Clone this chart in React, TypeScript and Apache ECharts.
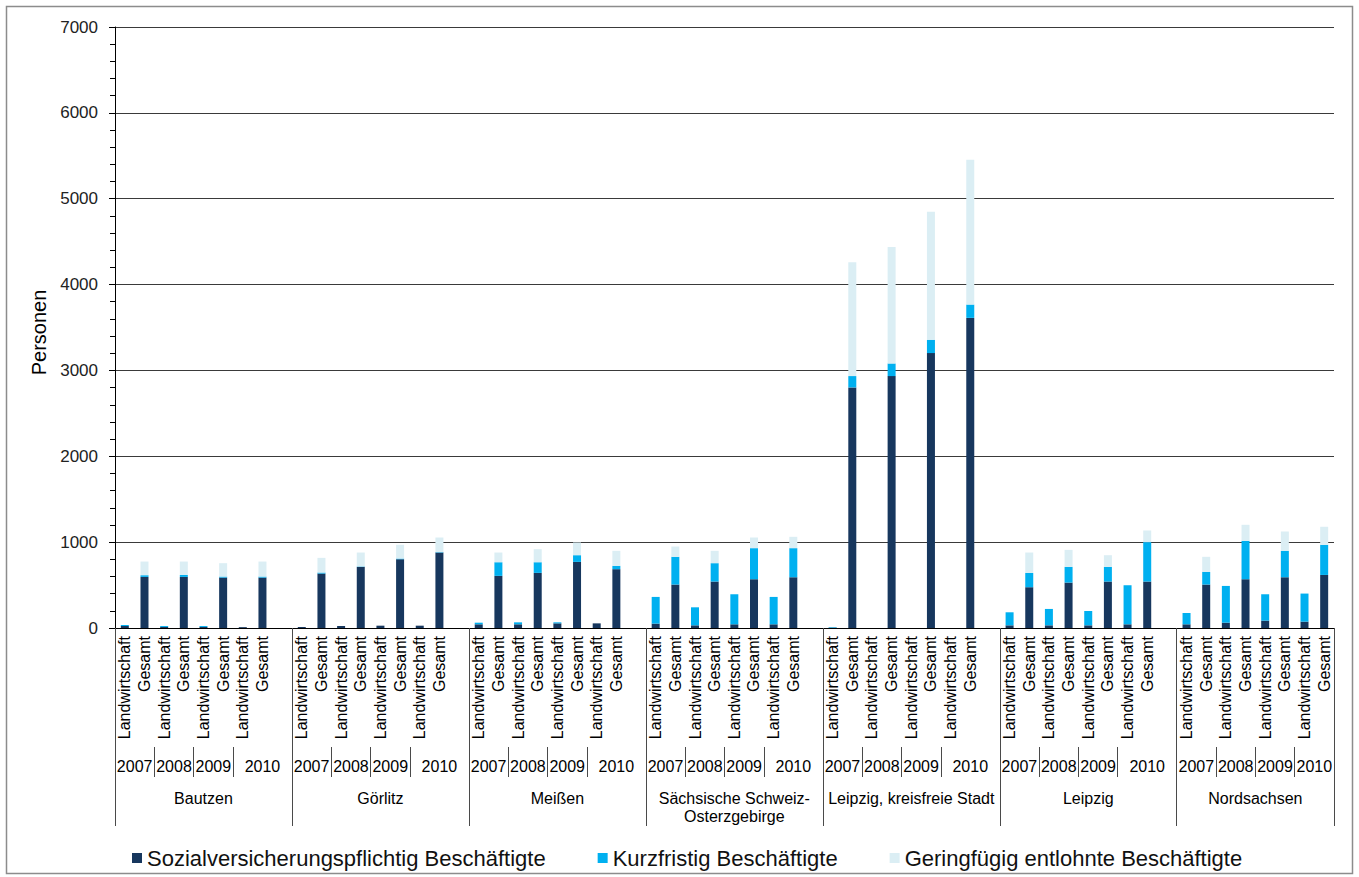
import React, { useEffect, useRef } from "react";
import * as echarts from "echarts";

const regions = [
  "Bautzen",
  "Görlitz",
  "Meißen",
  "Sächsische Schweiz-\nOsterzgebirge",
  "Leipzig, kreisfreie Stadt",
  "Leipzig",
  "Nordsachsen",
];
const years = ["2007", "2008", "2009", "2010"];
const sectors = ["Landwirtschaft", "Gesamt"];
const seriesNames = [
  "Sozialversicherungspflichtig Beschäftigte",
  "Kurzfristig Beschäftigte",
  "Geringfügig entlohnte Beschäftigte",
];
const seriesColors = ["#17375E", "#00B0F0", "#DBEEF4"];
const yMin = 0;
const yMax = 7000;
const yStep = 1000;

// per region: L2007, G2007, L2008, G2008, L2009, G2009, L2010, G2010
const sozialversicherungspflichtig = [
  [23, 595, 12, 595, 12, 587, 10, 587],
  [12, 634, 23, 712, 27, 801, 27, 879],
  [43, 607, 43, 642, 54, 770, 54, 685],
  [51, 506, 31, 541, 43, 568, 43, 591],
  [4, 2802, 0, 2934, 0, 3202, 0, 3612],
  [31, 475, 31, 529, 31, 541, 43, 541],
  [43, 506, 62, 568, 86, 591, 74, 618],
];
const kurzfristig = [
  [12, 20, 11, 23, 11, 12, 0, 12],
  [0, 12, 0, 5, 0, 8, 0, 5],
  [19, 159, 23, 124, 12, 78, 0, 39],
  [311, 323, 210, 214, 350, 362, 319, 339],
  [6, 132, 0, 147, 0, 155, 0, 155],
  [152, 167, 191, 183, 167, 171, 455, 459],
  [132, 148, 428, 447, 307, 308, 327, 351],
];
const geringfuegig = [
  [0, 159, 0, 156, 0, 156, 0, 175],
  [0, 171, 0, 162, 0, 160, 0, 170],
  [0, 113, 0, 152, 0, 148, 0, 175],
  [0, 120, 0, 144, 0, 124, 0, 132],
  [0, 1326, 0, 1357, 0, 1492, 0, 1687],
  [0, 237, 0, 198, 0, 136, 0, 136],
  [0, 175, 0, 187, 0, 225, 0, 210],
];

const FONT = "'Liberation Sans', Arial, sans-serif";

// build slot categories (a blank slot separates regions)
const categories: string[] = [];
const regionStart: number[] = [];
regions.forEach((_, ri) => {
  regionStart.push(categories.length);
  years.forEach(() => sectors.forEach((s) => categories.push(s)));
  if (ri < regions.length - 1) categories.push("");
});
const N = categories.length;

const flat = (rows: number[][]) => {
  const out: (number | null)[] = [];
  rows.forEach((row, ri) => {
    out.push(...row);
    if (ri < rows.length - 1) out.push(null);
  });
  return out;
};

// half-slot helper axes for year and region labels
const H = 2 * N + 1;
const yearLabels: string[] = Array(H).fill("");
const regionLabels: string[] = Array(H).fill("");
const yearTickIdx = new Set<number>([2 * N]);
const regionTickIdx = new Set<number>([2 * N]);
regions.forEach((r, ri) => {
  const s = regionStart[ri];
  const regionSpan = ri < regions.length - 1 ? years.length * sectors.length + 1 : years.length * sectors.length;
  regionLabels[2 * s + regionSpan] = r;
  regionTickIdx.add(2 * s);
  years.forEach((y, yi) => {
    const start = s + sectors.length * yi;
    const span = yi === years.length - 1 ? s + regionSpan - start : sectors.length;
    yearLabels[2 * start + span] = y;
    yearTickIdx.add(2 * start);
  });
});

const seriesData = [sozialversicherungspflichtig, kurzfristig, geringfuegig];

export default function App() {
  const ref = useRef<HTMLDivElement>(null);
  useEffect(() => {
    if (!ref.current) return;
    const chart = echarts.init(ref.current, null, { renderer: "svg" });
    const tickLine = { color: "#4a4a4a", width: 1 };
    chart.setOption({
      animation: false,
      backgroundColor: "#fff",
      textStyle: { fontFamily: FONT },
      graphic: [
        {
          type: "rect",
          shape: { x: 6.5, y: 6.5, width: 1346, height: 867 },
          style: { fill: "none", stroke: "#8c8c8c", lineWidth: 1.5 },
          silent: true,
        },
      ],
      legend: {
        data: seriesNames,
        left: 127,
        top: 842,
        icon: "rect",
        itemWidth: 10,
        itemHeight: 10,
        itemGap: 52,
        itemStyle: { borderWidth: 0 },
        textStyle: { fontSize: 22, color: "#111", fontFamily: FONT },
      },
      grid: { left: 115, right: 25, top: 27, bottom: 249 },
      xAxis: [
        {
          type: "category",
          data: categories,
          position: "bottom",
          axisLine: { lineStyle: { color: "#000", width: 1 } },
          axisTick: { interval: 0, length: 119, lineStyle: tickLine },
          axisLabel: { interval: 0, rotate: 90, margin: 8, fontSize: 16, color: "#000", fontFamily: FONT },
          splitLine: { show: false },
        },
        {
          type: "category",
          data: yearLabels,
          boundaryGap: false,
          position: "bottom",
          offset: 119,
          axisLine: { show: false },
          axisTick: { interval: (i: number) => yearTickIdx.has(i), length: 30, lineStyle: tickLine },
          axisLabel: { interval: (i: number) => yearLabels[i] !== "", margin: 11, fontSize: 16, color: "#000", fontFamily: FONT },
          splitLine: { show: false },
        },
        {
          type: "category",
          data: regionLabels,
          boundaryGap: false,
          position: "bottom",
          offset: 0,
          axisLine: { show: false },
          axisTick: { interval: (i: number) => regionTickIdx.has(i), length: 198, lineStyle: tickLine },
          axisLabel: {
            interval: (i: number) => regionLabels[i] !== "",
            margin: 161,
            fontSize: 16,
            lineHeight: 18,
            color: "#000",
            fontFamily: FONT,
            align: "center",
          },
          splitLine: { show: false },
        },
      ],
      yAxis: {
        type: "value",
        min: yMin,
        max: yMax,
        interval: yStep,
        name: "Personen",
        nameLocation: "middle",
        nameRotate: 90,
        nameGap: 58,
        nameTextStyle: { fontSize: 20, color: "#000", fontFamily: FONT, padding: [0, 10, 0, 0] },
        axisLine: { show: true, lineStyle: { color: "#000", width: 1 } },
        axisTick: { show: true, length: 6, lineStyle: { color: "#000" } },
        minorTick: { show: true, splitNumber: 5, length: 5, lineStyle: { color: "#000" } },
        axisLabel: {
          fontSize: 17,
          color: "#222",
          margin: 17,
          fontFamily: FONT,
          formatter: (v: number) => String(v),
        },
        splitLine: { show: true, lineStyle: { color: "#3a3a3a", width: 1 } },
      },
      series: seriesNames.map((name, i) => ({
        name,
        type: "bar",
        stack: "total",
        xAxisIndex: 0,
        barWidth: 8,
        data: flat(seriesData[i]),
        itemStyle: { color: seriesColors[i] },
      })),
    });
    return () => chart.dispose();
  }, []);
  return (
    <div
      ref={ref}
      style={{ position: "fixed", left: 0, top: 0, width: 1359, height: 877, background: "#fff" }}
    />
  );
}
